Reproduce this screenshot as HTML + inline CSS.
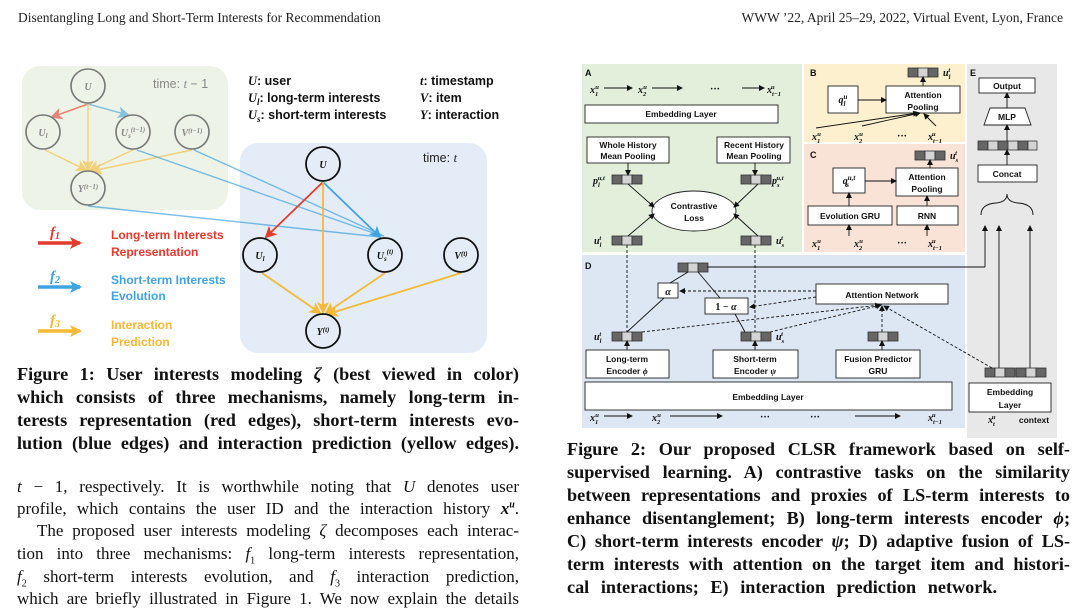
<!DOCTYPE html>
<html><head><meta charset="utf-8">
<style>
html,body{margin:0;padding:0;background:#fff;}
body{width:1080px;height:603px;position:relative;overflow:hidden;font-family:"Liberation Serif",serif;}
.hd{position:absolute;top:10px;font-size:13.5px;color:#222;}
.ln{position:absolute;text-align:justify;text-align-last:justify;white-space:nowrap;}
.cap{font-weight:bold;font-size:18.2px;color:#111;}
.bd{font-size:17px;color:#111;}
svg{position:absolute;left:0;top:0;}
</style></head><body>
<div class="hd" style="left:18px;">Disentangling Long and Short-Term Interests for Recommendation</div>
<div class="hd" style="right:17px;">WWW ’22, April 25–29, 2022, Virtual Event, Lyon, France</div>

<svg width="1080" height="603" viewBox="0 0 1080 603" xmlns="http://www.w3.org/2000/svg">
<defs>
<marker id="ak" markerWidth="6" markerHeight="6" refX="5" refY="3" orient="auto" markerUnits="userSpaceOnUse"><path d="M0,0 L6,3 L0,6 z" fill="#111"/></marker>
<marker id="ar" markerWidth="12" markerHeight="12" refX="10" refY="6" orient="auto" markerUnits="userSpaceOnUse"><path d="M0,0 L12,6 L0,12 L3,6 z" fill="#e53a2e"/></marker>
<marker id="ab" markerWidth="12" markerHeight="12" refX="10" refY="6" orient="auto" markerUnits="userSpaceOnUse"><path d="M0,0 L12,6 L0,12 L3,6 z" fill="#3fa3e0"/></marker>
<marker id="ay" markerWidth="12" markerHeight="12" refX="10" refY="6" orient="auto" markerUnits="userSpaceOnUse"><path d="M0,0 L12,6 L0,12 L3,6 z" fill="#f5b935"/></marker>
<g id="b3"><rect x="0" y="0" width="10" height="9" fill="#666" stroke="#333" stroke-width="0.8"/><rect x="10" y="0" width="10" height="9" fill="#d4d4d4" stroke="#333" stroke-width="0.8"/><rect x="20" y="0" width="10" height="9" fill="#666" stroke="#333" stroke-width="0.8"/></g>
</defs>

<rect x="22" y="66" width="206" height="144" rx="18" fill="#eef3e7"/>
<rect x="240" y="143" width="247" height="210" rx="18" fill="#e4edf7"/>
<g font-family="Liberation Sans,sans-serif" font-size="12.5" fill="#888"><text x="153" y="88">time: <tspan font-style="italic" font-family="Liberation Serif,serif">t</tspan> − 1</text></g>
<g font-family="Liberation Sans,sans-serif" font-size="12.5" fill="#222"><text x="423" y="162">time: <tspan font-style="italic" font-family="Liberation Serif,serif">t</tspan></text></g>
<g stroke-width="1.5" fill="none" opacity="0.6">
<line x1="88" y1="104" x2="52" y2="117" stroke="#e53a2e" marker-end="url(#ar)"/>
<line x1="88" y1="104" x2="128" y2="115" stroke="#3fa3e0" marker-end="url(#ab)"/>
<line x1="88" y1="104" x2="88" y2="170" stroke="#f5b935" marker-end="url(#ay)"/>
<line x1="45" y1="150" x2="86" y2="170" stroke="#f5b935" marker-end="url(#ay)"/>
<line x1="133" y1="150" x2="90" y2="170" stroke="#f5b935" marker-end="url(#ay)"/>
<line x1="192" y1="150" x2="92" y2="171" stroke="#f5b935" marker-end="url(#ay)"/>
</g>
<g stroke="#3fa3e0" stroke-width="1.4" fill="none" opacity="0.7">
<line x1="137" y1="150" x2="382" y2="236"/>
<line x1="194" y1="150" x2="384" y2="236"/>
<line x1="88" y1="206" x2="380" y2="237"/>
</g>
<g fill="none" stroke="#777" stroke-width="1.6">
<circle cx="88" cy="86" r="17"/><circle cx="43" cy="132" r="17"/><circle cx="133" cy="132" r="17"/><circle cx="192" cy="132" r="17"/><circle cx="88" cy="188" r="17"/>
</g>
<g font-family="Liberation Serif,serif" font-style="italic" font-weight="bold" fill="#888" font-size="10" text-anchor="middle">
<text x="88" y="90">U</text><text x="43" y="136">U<tspan font-size="7" dy="2">l</tspan></text>
<text x="133" y="136">U<tspan font-size="7" dy="2">s</tspan><tspan font-size="7" dy="-6">(t−1)</tspan></text>
<text x="192" y="136">V<tspan font-size="7" dy="-3">(t−1)</tspan></text>
<text x="88" y="192">Y<tspan font-size="7" dy="-3">(t−1)</tspan></text>
</g>
<g stroke-width="1.8" fill="none">
<line x1="323" y1="182" x2="266" y2="237" stroke="#e53a2e" marker-end="url(#ar)"/>
<line x1="323" y1="182" x2="380" y2="237" stroke="#3fa3e0" marker-end="url(#ab)"/>
<line x1="323" y1="182" x2="323" y2="312" stroke="#f5b935" marker-end="url(#ay)"/>
<line x1="262" y1="273" x2="320" y2="313" stroke="#f5b935" marker-end="url(#ay)"/>
<line x1="385" y1="273" x2="326" y2="313" stroke="#f5b935" marker-end="url(#ay)"/>
<line x1="461" y1="273" x2="328" y2="314" stroke="#f5b935" marker-end="url(#ay)"/>
</g>
<g fill="none" stroke="#111" stroke-width="1.8">
<circle cx="323" cy="164" r="17"/><circle cx="260" cy="255" r="17"/><circle cx="385" cy="255" r="17"/><circle cx="461" cy="255" r="17"/><circle cx="323" cy="331" r="17"/>
</g>
<g font-family="Liberation Serif,serif" font-style="italic" font-weight="bold" fill="#111" font-size="10" text-anchor="middle">
<text x="323" y="168">U</text><text x="260" y="259">U<tspan font-size="7" dy="2">l</tspan></text>
<text x="385" y="259">U<tspan font-size="7" dy="2">s</tspan><tspan font-size="7" dy="-7">(t)</tspan></text>
<text x="461" y="259">V<tspan font-size="7" dy="-3">(t)</tspan></text>
<text x="323" y="335">Y<tspan font-size="7" dy="-3">(t)</tspan></text>
</g>
<g font-family="Liberation Sans,sans-serif" font-weight="bold" font-size="12.5" fill="#111">
<text x="248" y="85"><tspan font-family="Liberation Serif,serif" font-style="italic">U</tspan>:  user</text>
<text x="248" y="102"><tspan font-family="Liberation Serif,serif" font-style="italic">U<tspan font-size="9" dy="3">l</tspan></tspan><tspan dy="-3">: long-term interests</tspan></text>
<text x="248" y="119"><tspan font-family="Liberation Serif,serif" font-style="italic">U<tspan font-size="9" dy="3">s</tspan></tspan><tspan dy="-3">: short-term interests</tspan></text>
<text x="420" y="85"><tspan font-family="Liberation Serif,serif" font-style="italic">t</tspan>:  timestamp</text>
<text x="420" y="102"><tspan font-family="Liberation Serif,serif" font-style="italic">V</tspan>: item</text>
<text x="420" y="119"><tspan font-family="Liberation Serif,serif" font-style="italic">Y</tspan>: interaction</text>
</g>
<g stroke-width="3.5">
<line x1="38" y1="243" x2="80" y2="243" stroke="#e53a2e" marker-end="url(#ar)"/>
<line x1="38" y1="287" x2="80" y2="287" stroke="#3fa3e0" marker-end="url(#ab)"/>
<line x1="38" y1="331" x2="80" y2="331" stroke="#f5b935" marker-end="url(#ay)"/>
</g>
<g font-family="Liberation Serif,serif" font-style="italic" font-weight="bold" font-size="15">
<text x="50" y="237" fill="#e53a2e">f<tspan font-size="10" dy="2">1</tspan></text>
<text x="50" y="281" fill="#3fa3e0">f<tspan font-size="10" dy="2">2</tspan></text>
<text x="50" y="325" fill="#f5b935">f<tspan font-size="10" dy="2">3</tspan></text>
</g>
<g font-family="Liberation Sans,sans-serif" font-weight="bold" font-size="12">
<text x="111" y="239" fill="#e53a2e">Long-term Interests</text><text x="111" y="256" fill="#e53a2e">Representation</text>
<text x="111" y="284" fill="#3fa3e0">Short-term Interests</text><text x="111" y="300" fill="#3fa3e0">Evolution</text>
<text x="111" y="329" fill="#f5b935">Interaction</text><text x="111" y="346" fill="#f5b935">Prediction</text>
</g>

<rect x="582" y="64" width="220" height="188" fill="#e3eedb"/>
<rect x="804" y="64" width="161" height="78" fill="#fcf0cf"/>
<rect x="804" y="144" width="161" height="108" fill="#f8e3d6"/>
<rect x="967" y="64" width="90" height="374" fill="#e8e8e8"/>
<rect x="582" y="255" width="383" height="173" fill="#dde7f3"/>

<g font-family="Liberation Sans,sans-serif" font-weight="bold" font-size="9" fill="#111">
<text x="585" y="76">A</text><text x="810" y="76">B</text><text x="810" y="158">C</text><text x="970" y="76">E</text><text x="585" y="269">D</text>
</g>

<g fill="#fff" stroke="#222" stroke-width="0.9">
<rect x="585" y="105" width="193" height="18"/>
<rect x="587" y="137" width="82" height="26"/>
<rect x="717" y="137" width="73" height="26"/>
<ellipse cx="694" cy="211" rx="42" ry="20"/>
<rect x="828" y="86" width="30" height="27"/>
<rect x="886" y="86" width="74" height="27"/>
<rect x="833" y="168" width="32" height="25"/>
<rect x="896" y="168" width="62" height="28"/>
<rect x="808" y="206" width="84" height="19"/>
<rect x="897" y="206" width="61" height="19"/>
<rect x="979" y="78" width="56" height="15"/>
<path d="M990,108 L1025,108 L1031,125 L984,125 z"/>
<rect x="978" y="165" width="59" height="17"/>
<rect x="969" y="383" width="82" height="29"/>
<rect x="658" y="283" width="20" height="15"/>
<rect x="705" y="298" width="43" height="16"/>
<rect x="816" y="284" width="132" height="20"/>
<rect x="586" y="350" width="83" height="28"/>
<rect x="713" y="350" width="85" height="28"/>
<rect x="836" y="350" width="84" height="28"/>
<rect x="585" y="382" width="367" height="28"/>
</g>

<g font-family="Liberation Sans,sans-serif" font-weight="bold" font-size="8.5" fill="#111" text-anchor="middle">
<text x="681" y="117">Embedding Layer</text>
<text x="628" y="148">Whole History</text><text x="628" y="159">Mean Pooling</text>
<text x="754" y="148">Recent History</text><text x="754" y="159">Mean Pooling</text>
<text x="694" y="209">Contrastive</text><text x="694" y="221">Loss</text>
<text x="923" y="98">Attention</text><text x="923" y="110">Pooling</text>
<text x="927" y="180">Attention</text><text x="927" y="192">Pooling</text>
<text x="850" y="219">Evolution GRU</text><text x="927" y="219">RNN</text>
<text x="1007" y="89">Output</text><text x="1007" y="120">MLP</text><text x="1007" y="177">Concat</text>
<text x="1010" y="395">Embedding</text><text x="1010" y="408">Layer</text>
<text x="882" y="298">Attention Network</text>
<text x="627" y="362">Long-term</text><text x="627" y="374">Encoder <tspan font-family="Liberation Serif,serif" font-style="italic">ϕ</tspan></text>
<text x="755" y="362">Short-term</text><text x="755" y="374">Encoder <tspan font-family="Liberation Serif,serif" font-style="italic">ψ</tspan></text>
<text x="878" y="362">Fusion Predictor</text><text x="878" y="374">GRU</text>
<text x="768" y="400">Embedding Layer</text>
<text x="1034" y="423" font-size="8.5">context</text>
</g>
<g font-family="Liberation Serif,serif" font-weight="bold" font-style="italic" font-size="10" fill="#111" text-anchor="middle">
<text x="668" y="295">α</text><text x="726" y="310" font-style="normal">1 − <tspan font-style="italic">α</tspan></text>
<text x="843" y="103">q<tspan font-size="7" dy="-4">u</tspan><tspan font-size="7" dx="-4" dy="7">l</tspan></text>
<text x="849" y="184">q<tspan font-size="7" dy="-4">u,t</tspan><tspan font-size="7" dx="-9" dy="7">s</tspan></text>
</g>
<g font-family="Liberation Serif,serif" font-weight="bold" font-style="italic" font-size="10" fill="#111">
<text x="590" y="93">x<tspan font-size="6.5" dy="3">1</tspan><tspan font-size="6.5" dx="-3" dy="-7">u</tspan></text>
<text x="638" y="93">x<tspan font-size="6.5" dy="3">2</tspan><tspan font-size="6.5" dx="-3" dy="-7">u</tspan></text>
<text x="710" y="92" font-style="normal">···</text>
<text x="767" y="93">x<tspan font-size="6.5" dy="3">t−1</tspan><tspan font-size="6.5" dx="-10" dy="-7">u</tspan></text>
<text x="812" y="140">x<tspan font-size="6.5" dy="3">1</tspan><tspan font-size="6.5" dx="-3" dy="-7">u</tspan></text>
<text x="854" y="140">x<tspan font-size="6.5" dy="3">2</tspan><tspan font-size="6.5" dx="-3" dy="-7">u</tspan></text>
<text x="897" y="139" font-style="normal">···</text>
<text x="928" y="140">x<tspan font-size="6.5" dy="3">t−1</tspan><tspan font-size="6.5" dx="-10" dy="-7">u</tspan></text>
<text x="812" y="247">x<tspan font-size="6.5" dy="3">1</tspan><tspan font-size="6.5" dx="-3" dy="-7">u</tspan></text>
<text x="854" y="247">x<tspan font-size="6.5" dy="3">2</tspan><tspan font-size="6.5" dx="-3" dy="-7">u</tspan></text>
<text x="897" y="246" font-style="normal">···</text>
<text x="928" y="247">x<tspan font-size="6.5" dy="3">t−1</tspan><tspan font-size="6.5" dx="-10" dy="-7">u</tspan></text>
<text x="590" y="421">x<tspan font-size="6.5" dy="3">1</tspan><tspan font-size="6.5" dx="-3" dy="-7">u</tspan></text>
<text x="652" y="421">x<tspan font-size="6.5" dy="3">2</tspan><tspan font-size="6.5" dx="-3" dy="-7">u</tspan></text>
<text x="760" y="420" font-style="normal">···</text><text x="810" y="420" font-style="normal">···</text>
<text x="928" y="421">x<tspan font-size="6.5" dy="3">t−1</tspan><tspan font-size="6.5" dx="-10" dy="-7">u</tspan></text>
<text x="988" y="423">x<tspan font-size="6.5" dy="3">t</tspan><tspan font-size="6.5" dx="-3" dy="-7">u</tspan></text>
<text x="593" y="184">p<tspan font-size="6.5" dy="3">l</tspan><tspan font-size="6.5" dx="-2" dy="-7">u,t</tspan></text>
<text x="772" y="184">p<tspan font-size="6.5" dy="3">s</tspan><tspan font-size="6.5" dx="-3" dy="-7">u,t</tspan></text>
<text x="594" y="244">u<tspan font-size="6.5" dy="3">l</tspan><tspan font-size="6.5" dx="-2" dy="-7">t</tspan></text>
<text x="776" y="244">u<tspan font-size="6.5" dy="3">s</tspan><tspan font-size="6.5" dx="-3" dy="-7">t</tspan></text>
<text x="943" y="76">u<tspan font-size="6.5" dy="3">l</tspan><tspan font-size="6.5" dx="-2" dy="-7">t</tspan></text>
<text x="950" y="159">u<tspan font-size="6.5" dy="3">s</tspan><tspan font-size="6.5" dx="-3" dy="-7">t</tspan></text>
<text x="594" y="340">u<tspan font-size="6.5" dy="3">l</tspan><tspan font-size="6.5" dx="-2" dy="-7">t</tspan></text>
<text x="776" y="340">u<tspan font-size="6.5" dy="3">s</tspan><tspan font-size="6.5" dx="-3" dy="-7">t</tspan></text>
</g>
<use href="#b3" x="612" y="175"/><use href="#b3" x="741" y="175"/>
<use href="#b3" x="612" y="236"/><use href="#b3" x="741" y="236"/>
<use href="#b3" x="908" y="68"/><use href="#b3" x="915" y="151"/>
<use href="#b3" x="678" y="263"/>
<use href="#b3" x="612" y="332"/><use href="#b3" x="741" y="332"/><use href="#b3" x="868" y="332"/>
<use href="#b3" x="985" y="368"/><use href="#b3" x="1016" y="368"/>
<g stroke="#333" stroke-width="0.8">
<rect x="978" y="141" width="10" height="9" fill="#666"/><rect x="988" y="141" width="10" height="9" fill="#d4d4d4"/>
<rect x="998" y="141" width="10" height="9" fill="#666"/><rect x="1008" y="141" width="10" height="9" fill="#d4d4d4"/>
<rect x="1018" y="141" width="10" height="9" fill="#666"/><rect x="1028" y="141" width="9" height="9" fill="#d4d4d4"/>
</g>
<g stroke="#111" stroke-width="0.9" fill="none" marker-end="url(#ak)">
<line x1="604" y1="88" x2="632" y2="88"/><line x1="652" y1="88" x2="682" y2="88"/><line x1="742" y1="88" x2="764" y2="88"/>
<line x1="628" y1="163" x2="628" y2="175"/><line x1="755" y1="163" x2="755" y2="175"/>
<line x1="628" y1="184" x2="654" y2="207"/><line x1="628" y1="236" x2="654" y2="214"/>
<line x1="758" y1="184" x2="734" y2="207"/><line x1="758" y1="236" x2="734" y2="214"/>
<line x1="858" y1="100" x2="886" y2="100"/><line x1="923" y1="86" x2="923" y2="77"/>
<line x1="816" y1="128" x2="918" y2="113"/><line x1="862" y1="126" x2="920" y2="113"/><line x1="936" y1="126" x2="924" y2="114"/>
<line x1="865" y1="181" x2="896" y2="181"/><line x1="849" y1="206" x2="849" y2="193"/><line x1="927" y1="206" x2="927" y2="196"/>
<line x1="930" y1="168" x2="930" y2="160"/><line x1="849" y1="236" x2="849" y2="225"/><line x1="927" y1="236" x2="927" y2="225"/>
<line x1="1007" y1="165" x2="1007" y2="150"/><line x1="1007" y1="141" x2="1007" y2="125"/><line x1="1007" y1="108" x2="1007" y2="93"/>
<line x1="985" y1="267" x2="985" y2="226"/><line x1="999" y1="368" x2="999" y2="226"/><line x1="1030" y1="368" x2="1030" y2="226"/>
<line x1="627" y1="350" x2="627" y2="341"/><line x1="755" y1="350" x2="755" y2="341"/><line x1="882" y1="350" x2="882" y2="341"/>
<line x1="604" y1="416" x2="632" y2="416"/><line x1="670" y1="416" x2="722" y2="416"/><line x1="855" y1="416" x2="900" y2="416"/>
</g>
<g stroke="#111" stroke-width="0.9" fill="none">
<line x1="707" y1="267" x2="985" y2="267"/>
<line x1="627" y1="332" x2="664" y2="298"/><line x1="670" y1="283" x2="688" y2="272"/>
<line x1="745" y1="332" x2="735" y2="314"/><line x1="720" y1="298" x2="698" y2="272"/>
<path d="M981,215 Q981,204 996,203 Q1007,202 1007,194 Q1007,202 1018,203 Q1033,204 1033,215"/>
</g>
<g stroke="#111" stroke-width="0.9" fill="none" stroke-dasharray="3,2">
<line x1="627" y1="245" x2="627" y2="332"/><line x1="755" y1="245" x2="755" y2="332"/>
<line x1="816" y1="291" x2="680" y2="291" marker-end="url(#ak)"/>
<line x1="816" y1="297" x2="750" y2="307" marker-end="url(#ak)"/>
<line x1="642" y1="332" x2="880" y2="305" marker-end="url(#ak)"/>
<line x1="770" y1="332" x2="881" y2="305" marker-end="url(#ak)"/>
<line x1="882" y1="332" x2="882" y2="306" marker-end="url(#ak)"/>
<line x1="992" y1="368" x2="884" y2="306" marker-end="url(#ak)"/>
</g>
</svg>

<div class="ln cap" style="left:17px;width:502px;top:364px;">Figure 1: User interests modeling <i>ζ</i> (best viewed in color)</div>
<div class="ln cap" style="left:17px;width:502px;top:387px;">which consists of three mechanisms, namely long-term in-</div>
<div class="ln cap" style="left:17px;width:502px;top:410px;">terests representation (red edges), short-term interests evo-</div>
<div class="ln cap" style="left:17px;width:502px;top:433px;">lution (blue edges) and interaction prediction (yellow edges).</div>

<div class="ln bd" style="left:17px;width:502px;top:477px;"><i>t</i> − 1, respectively. It is worthwhile noting that <i>U</i> denotes user</div>
<div class="ln bd" style="left:17px;width:502px;top:499px;">profile, which contains the user ID and the interaction history <b><i>x<sup style="font-size:10px;line-height:0">u</sup></i></b>.</div>
<div class="ln bd" style="left:37px;width:482px;top:521px;">The proposed user interests modeling <i>ζ</i> decomposes each interac-</div>
<div class="ln bd" style="left:17px;width:502px;top:544px;">tion into three mechanisms: <i>f</i><sub style="font-size:10px;line-height:0">1</sub> long-term interests representation,</div>
<div class="ln bd" style="left:17px;width:502px;top:567px;"><i>f</i><sub style="font-size:10px;line-height:0">2</sub> short-term interests evolution, and <i>f</i><sub style="font-size:10px;line-height:0">3</sub> interaction prediction,</div>
<div class="ln bd" style="left:17px;width:502px;top:589px;">which are briefly illustrated in Figure 1. We now explain the details</div>

<div class="ln cap" style="left:567px;width:503px;top:439px;">Figure 2: Our proposed CLSR framework based on self-</div>
<div class="ln cap" style="left:567px;width:503px;top:462px;">supervised learning. A) contrastive tasks on the similarity</div>
<div class="ln cap" style="left:567px;width:503px;top:485px;">between representations and proxies of LS-term interests to</div>
<div class="ln cap" style="left:567px;width:503px;top:508px;">enhance disentanglement; B) long-term interests encoder <i>ϕ</i>;</div>
<div class="ln cap" style="left:567px;width:503px;top:531px;">C) short-term interests encoder <i>ψ</i>; D) adaptive fusion of LS-</div>
<div class="ln cap" style="left:567px;width:503px;top:554px;">term interests with attention on the target item and histori-</div>
<div class="ln cap" style="left:567px;width:430px;top:577px;">cal interactions; E) interaction prediction network.</div>
</body></html>
